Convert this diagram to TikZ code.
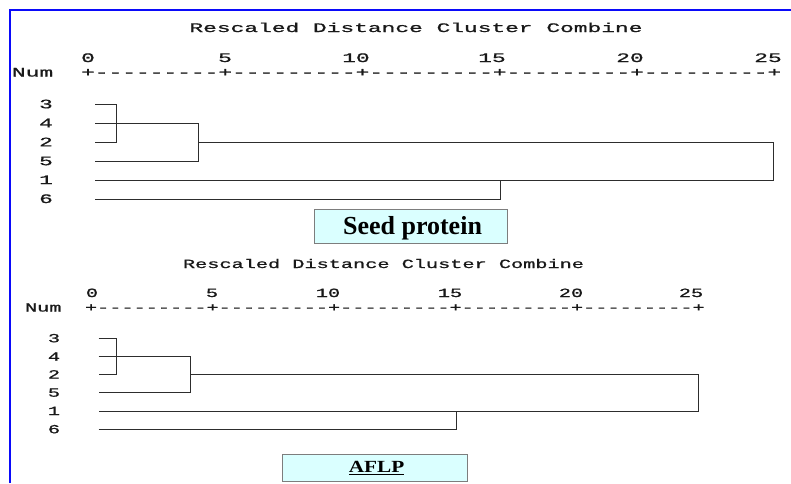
\documentclass[tikz,border=0pt]{standalone}
\usepackage{fontspec}
\setmainfont{Liberation Serif}
\newfontfamily\monofam[FakeBold=0.8]{Liberation Mono}
\usepackage{graphicx}
\definecolor{framblue}{RGB}{10,10,250}
\definecolor{boxfill}{RGB}{218,255,255}
\definecolor{boxline}{RGB}{125,125,125}
\definecolor{treeline}{RGB}{45,45,45}
\newcommand\tmono[1]{\scalebox{1.76}[1]{\fontsize{13}{13}\selectfont\monofam #1}}
\newcommand\bmono[1]{\scalebox{1.62}[1]{\fontsize{12.5}{12.5}\selectfont\monofam #1}}
\begin{document}
\begin{tikzpicture}[x=1pt,y=-1pt,
  txt/.style={inner sep=0pt,outer sep=0pt,anchor=base,text=black!90},
  txtw/.style={inner sep=0pt,outer sep=0pt,anchor=base west,text=black!90},
  tree/.style={draw=treeline,line width=1.7pt},
  labelbox/.style={draw=boxline,line width=0.9pt,fill=boxfill,inner sep=0pt}]
\useasboundingbox (0,0) rectangle (791,483);
\fill[white] (0,0) rectangle (791,483);
% blue frame
\coordinate (fA) at (10,483);
\coordinate (fB) at (10,9.5);
\coordinate (fC) at (791,9.5);
\draw[framblue,line width=2pt] (fA) -- (fB) -- (fC);

% ===== top dendrogram =====
\node[txt] (ttitle) at (416,32) {\tmono{Rescaled Distance Cluster Combine}};
\node[txt] (tn0) at (88,62) {\tmono{0}};
\node[txt] (tn5) at (225,62) {\tmono{5}};
\node[txt] (tn10) at (356,62) {\tmono{10}};
\node[txt] (tn15) at (492,62) {\tmono{15}};
\node[txt] (tn20) at (630,62) {\tmono{20}};
\node[txt] (tn25) at (768,62) {\tmono{25}};
\node[txtw] (tnum) at (12,76.5) {\tmono{Num}};
\node[txtw] (taxis) at (81.1,76.5) {\tmono{+---------+---------+---------+---------+---------+}};
\node[txt] (tl3) at (46,108.3) {\tmono{3}};
\node[txt] (tl4) at (46,127.3) {\tmono{4}};
\node[txt] (tl2) at (46,146.3) {\tmono{2}};
\node[txt] (tl5) at (46,165.2) {\tmono{5}};
\node[txt] (tl1) at (46,184.1) {\tmono{1}};
\node[txt] (tl6) at (46,203) {\tmono{6}};
\coordinate (ta3) at (95,104.5);
\coordinate (ta4) at (95,123.5);
\coordinate (ta2) at (95,142.5);
\coordinate (ta5) at (95,161.5);
\coordinate (ta1) at (95,180.5);
\coordinate (ta6) at (95,199.5);
\draw[tree] (ta3) -- (116.5,104.5) -- (116.5,142.5) -- (ta2);
\draw[tree] (ta4) -- (198.5,123.5) -- (198.5,161.5) -- (ta5);
\draw[tree] (198.5,142.5) -- (773.5,142.5) -- (773.5,180.5) -- (ta1);
\draw[tree] (ta6) -- (500.5,199.5) -- (500.5,180.5);

\node[labelbox,minimum width=193pt,minimum height=34pt] (seedbox) at (410.5,226) {};
\node[inner sep=0pt,anchor=base] (seedtxt) at (412.5,234) {\fontsize{26}{26}\selectfont\bfseries Seed protein};

% ===== bottom dendrogram =====
\node[txt] (btitle) at (383.5,268) {\bmono{Rescaled Distance Cluster Combine}};
\node[txt] (bn0) at (92,297) {\bmono{0}};
\node[txt] (bn5) at (212,297) {\bmono{5}};
\node[txt] (bn10) at (328,297) {\bmono{10}};
\node[txt] (bn15) at (450,297) {\bmono{15}};
\node[txt] (bn20) at (571,297) {\bmono{20}};
\node[txt] (bn25) at (691,297) {\bmono{25}};
\node[txtw] (bnum) at (25,311.5) {\bmono{Num}};
\node[txtw] (baxis) at (85,311.5) {\bmono{+---------+---------+---------+---------+---------+}};
\node[txt] (bl3) at (54,342.3) {\bmono{3}};
\node[txt] (bl4) at (54,360.7) {\bmono{4}};
\node[txt] (bl2) at (54,378.5) {\bmono{2}};
\node[txt] (bl5) at (54,396.7) {\bmono{5}};
\node[txt] (bl1) at (54,415) {\bmono{1}};
\node[txt] (bl6) at (54,433.3) {\bmono{6}};
\coordinate (ba3) at (98.5,338.5);
\coordinate (ba4) at (98.5,356.5);
\coordinate (ba2) at (98.5,374.5);
\coordinate (ba5) at (98.5,392.5);
\coordinate (ba1) at (98.5,411.5);
\coordinate (ba6) at (98.5,429.5);
\draw[tree] (ba3) -- (116.5,338.5) -- (116.5,374.5) -- (ba2);
\draw[tree] (ba4) -- (190.5,356.5) -- (190.5,392.5) -- (ba5);
\draw[tree] (190.5,374.5) -- (698.5,374.5) -- (698.5,411.5) -- (ba1);
\draw[tree] (ba6) -- (456.5,429.5) -- (456.5,411.5);

\node[labelbox,minimum width=185pt,minimum height=27.5pt] (aflpbox) at (374.5,467.75) {};
\node[inner sep=0pt,anchor=base] (aflptxt) at (376.5,472.7) {\scalebox{1.25}[1]{\fontsize{17}{17}\selectfont\bfseries\underline{AFLP}}};
\end{tikzpicture}
\end{document}
